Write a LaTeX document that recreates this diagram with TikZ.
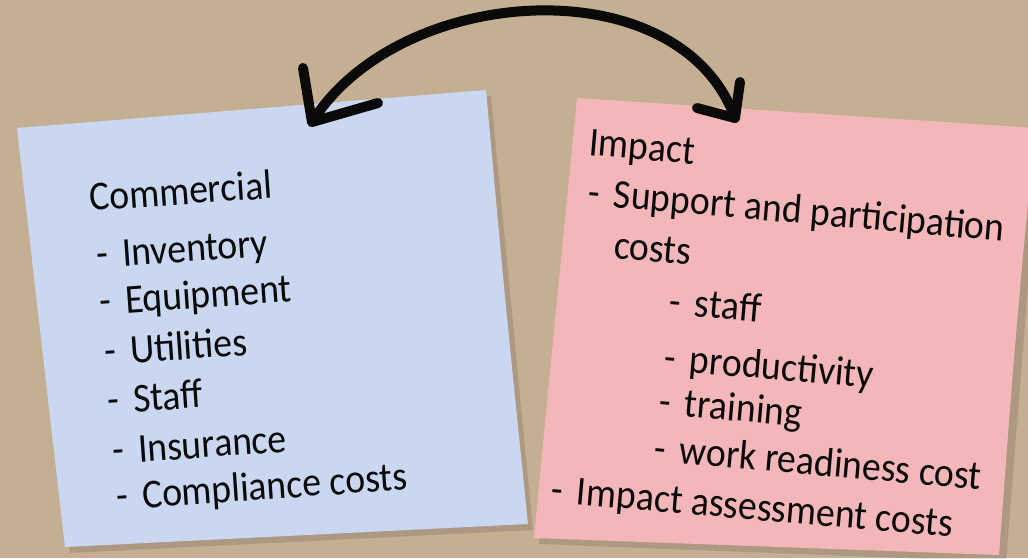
\documentclass[tikz,border=0pt]{standalone}
\usepackage{fontspec}
\newfontfamily\hand{Carlito}[FakeStretch=0.92]
\definecolor{bg}{RGB}{197,175,147}
\definecolor{bluenote}{RGB}{201,215,240}
\definecolor{pinknote}{RGB}{244,183,185}
\definecolor{ink}{RGB}{10,10,10}
\begin{document}
\begin{tikzpicture}[x=1pt,y=-1pt,
  shade/.style={fill=black,opacity=0.12},
  txt/.style={inner sep=0pt,anchor=base west,font=\hand\fontsize{41}{41}\selectfont,text=ink},
  ltxt/.style={txt,rotate=4},
  rtxt/.style={txt,rotate=-5},
  bigarrow/.style={line width=10pt,line cap=round,line join=round,draw=ink}]
\fill[bg] (0,0) rectangle (1028,558);
\useasboundingbox (0,0) rectangle (1028,558);
% shadows
\fill[shade] (22,134) -- (491,96) -- (533,530) -- (70,553) -- cycle;
\fill[shade] (582,104) -- (1040,136) -- (1006,562) -- (539,544) -- cycle;
% notes
\fill[bluenote] (17,128) -- (486,90) .. controls (505,300) .. (528,524) -- (65,547) .. controls (40,330) .. cycle;
\fill[pinknote] (577,98) -- (1035,128) .. controls (1015,340) .. (999,555) -- (534,538) .. controls (555,320) .. cycle;
% left text
\node[ltxt] (c0) at (90,211) {Commercial};
\node[ltxt] (c1) at (97,268) {-\hspace{0.35em}Inventory};
\node[ltxt] (c2) at (100,315) {-\hspace{0.35em}Equipment};
\node[ltxt] (c3) at (105,365) {-\hspace{0.35em}Utilities};
\node[ltxt] (c4) at (108,414) {-\hspace{0.35em}Staff};
\node[ltxt] (c5) at (113,464) {-\hspace{0.35em}Insurance};
\node[ltxt] (c6) at (117,510) {-\hspace{0.35em}Compliance costs};
% right text
\node[rtxt] (i0) at (588,155) {Impact};
\node[rtxt] (i1) at (587,205) {-\hspace{0.35em}Support and participation};
\node[rtxt] (i2) at (613,258) {costs};
\node[rtxt] (i3) at (668,314) {-\hspace{0.35em}staff};
\node[rtxt] (i4) at (663,370) {-\hspace{0.35em}productivity};
\node[rtxt] (i5) at (658,414) {-\hspace{0.35em}training};
\node[rtxt] (i6) at (653,461) {-\hspace{0.35em}work readiness cost};
\node[rtxt] (i7) at (550,502) {-\hspace{0.35em}Impact assessment costs};
% arrow
\coordinate (la) at (312,122);
\coordinate (ra) at (735,118);
\draw[bigarrow] (la) .. controls (400,-18) and (680,-34) .. (ra);
\draw[bigarrow] (303,68) -- (la) -- (378,103);
\draw[bigarrow] (740,82) -- (ra) -- (697,108);
\end{tikzpicture}
\end{document}
